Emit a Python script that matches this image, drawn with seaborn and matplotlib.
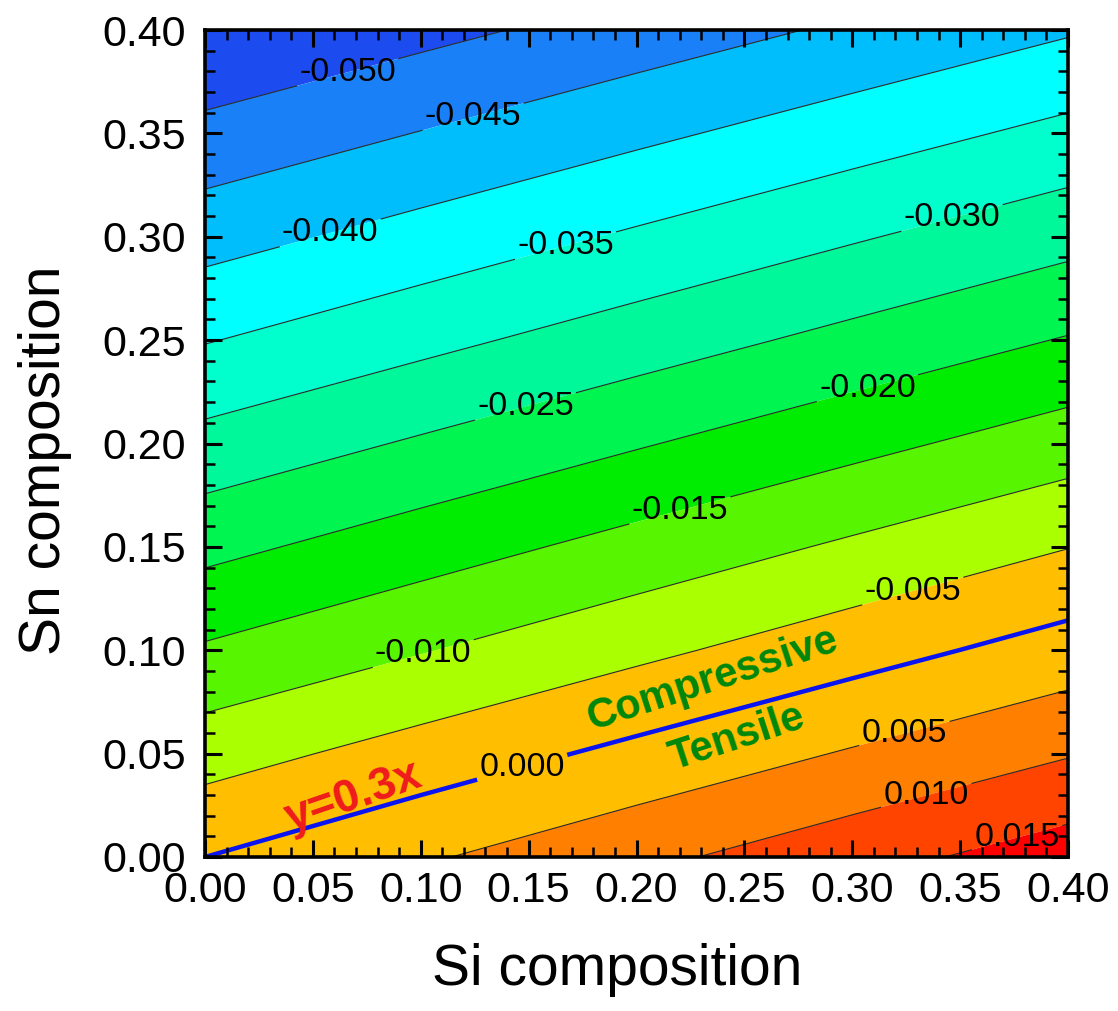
import numpy as np
import matplotlib
matplotlib.use("Agg")
import matplotlib.pyplot as plt
from matplotlib.ticker import MultipleLocator, FormatStrFormatter
import seaborn as sns

# Composition grid (Si along x, Sn along y)
si_comp = [0.0, 0.1, 0.2, 0.3, 0.4]
sn_comp = [0.00, 0.05, 0.10, 0.15, 0.20, 0.25, 0.30, 0.35, 0.40]

# Strain values on the grid, one row per Sn composition
strain_sn000 = [0.00000, 0.00438, 0.00875, 0.01313, 0.01750]
strain_sn005 = [-0.00714, -0.00294, 0.00126, 0.00546, 0.00966]
strain_sn010 = [-0.01441, -0.01029, -0.00616, -0.00204, 0.00209]
strain_sn015 = [-0.02143, -0.01736, -0.01328, -0.00921, -0.00513]
strain_sn020 = [-0.02838, -0.02441, -0.02043, -0.01646, -0.01248]
strain_sn025 = [-0.03527, -0.03137, -0.02747, -0.02357, -0.01967]
strain_sn030 = [-0.04197, -0.03815, -0.03432, -0.03050, -0.02667]
strain_sn035 = [-0.04855, -0.04483, -0.04110, -0.03738, -0.03365]
strain_sn040 = [-0.05510, -0.05145, -0.04780, -0.04415, -0.04050]

# Filled bands and their colours
band_edges = [-0.070, -0.050, -0.045, -0.040, -0.035, -0.030, -0.025, -0.020,
              -0.015, -0.010, -0.005, 0.005, 0.010, 0.015, 0.030]
band_colors = ["#1c4cf0", "#1a80f8", "#00bdfc", "#00ffff", "#00ffcc", "#00f79a",
               "#00f550", "#00ec00", "#58f500", "#aaff00", "#ffbf00", "#ff8000",
               "#ff4400", "#ff0000"]

# Contour lines and label positions (Si, Sn)
line_levels = [-0.050, -0.045, -0.040, -0.035, -0.030, -0.025, -0.020, -0.015,
               -0.010, -0.005, 0.005, 0.010, 0.015]
label_positions = [(0.066, 0.380), (0.125, 0.355), (0.058, 0.302), (0.167, 0.296),
                   (0.346, 0.310), (0.149, 0.216), (0.307, 0.227), (0.220, 0.168),
                   (0.101, 0.099), (0.329, 0.125), (0.324, 0.0605), (0.334, 0.031),
                   (0.3755, 0.013)]
zero_label_position = [(0.147, 0.0435)]

sns.set_theme(style="ticks")
plt.rcParams["font.family"] = ["Liberation Sans", "DejaVu Sans"]
plt.rcParams["text.color"] = "black"
plt.rcParams["axes.labelcolor"] = "black"
plt.rcParams["xtick.color"] = "black"
plt.rcParams["ytick.color"] = "black"
plt.rcParams["axes.axisbelow"] = False

X, Y = np.meshgrid(si_comp, sn_comp)
Z = np.array([strain_sn000, strain_sn005, strain_sn010, strain_sn015, strain_sn020,
              strain_sn025, strain_sn030, strain_sn035, strain_sn040])

fig = plt.figure(figsize=(11.18, 10.11), dpi=100)
ax = fig.add_axes([205 / 1118, 1 - 857 / 1011, 863 / 1118, 827 / 1011])
ax.set_axisbelow(False)

palette = sns.color_palette(band_colors)
ax.contourf(X, Y, Z, levels=band_edges, colors=palette, antialiased=True, zorder=0.5)

cs = ax.contour(X, Y, Z, levels=line_levels, colors="#2a2a2a", linewidths=0.8,
                linestyles="solid", negative_linestyles="solid", zorder=0.8)
labels = ax.clabel(cs, fmt="%.3f", fontsize=24.5, colors="black", inline=True,
                   inline_spacing=4, manual=label_positions)
for t in labels:
    t.set_rotation(0)

cz = ax.contour(X, Y, Z, levels=[0.0], colors="#0a14f0", linewidths=3.2,
                linestyles="solid", zorder=0.9)
zlabels = ax.clabel(cz, fmt="%.3f", fontsize=24.5, colors="black", inline=True,
                    inline_spacing=4, manual=zero_label_position)
for t in zlabels:
    t.set_rotation(0)

ax.text(0.069, 0.029, "y=0.3x", color="#ee1c1c", fontsize=33, fontweight="bold",
        rotation=19, ha="center", va="center", rotation_mode="anchor")
ax.text(0.235, 0.086, "Compressive", color="#00870c", fontsize=30, fontweight="bold",
        rotation=18, ha="center", va="center", rotation_mode="anchor")
ax.text(0.2466, 0.0576, "Tensile", color="#00870c", fontsize=30, fontweight="bold",
        rotation=18, ha="center", va="center", rotation_mode="anchor")

ax.set_xlim(0, 0.4)
ax.set_ylim(0, 0.4)
for axis in (ax.xaxis, ax.yaxis):
    axis.set_major_locator(MultipleLocator(0.05))
    axis.set_minor_locator(MultipleLocator(0.01))
    axis.set_major_formatter(FormatStrFormatter("%.2f"))
ax.tick_params(which="both", direction="in", top=True, right=True,
               colors="black", labelcolor="black")
ax.tick_params(which="major", length=12, width=2.2, labelsize=31)
ax.tick_params(axis="x", which="major", pad=10)
ax.tick_params(axis="y", which="major", pad=14)
ax.tick_params(which="minor", length=7, width=1.8)
for s in ax.spines.values():
    s.set_linewidth(2.6)
    s.set_color("black")
    s.set_zorder(3)

fig.text(617 / 1118, 1 - 970 / 1011, "Si composition", fontsize=41, color="black",
         ha="center", va="center")
fig.text(45 / 1118, 1 - 460 / 1011, "Sn composition", fontsize=41, color="black",
         ha="center", va="center", rotation=90)

fig.savefig("out.png", dpi=100)
